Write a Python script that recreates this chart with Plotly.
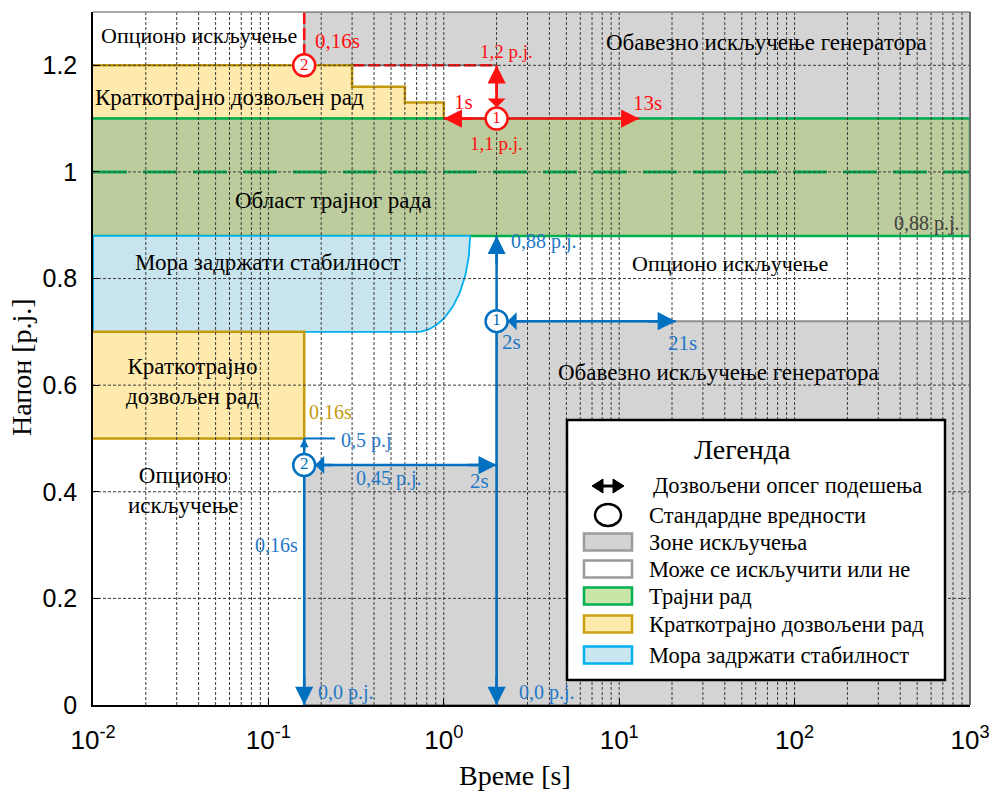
import numpy as np
import plotly.graph_objects as go

# ---------------- axes ----------------
T_MIN, T_MAX = 0.01, 1000.0
U_MIN, U_MAX = 0.0, 1.3
X_TICKS = [0.01, 0.1, 1, 10, 100, 1000]
X_TICK_TEXT = ["10<sup>-2</sup>", "10<sup>-1</sup>", "10<sup>0</sup>",
               "10<sup>1</sup>", "10<sup>2</sup>", "10<sup>3</sup>"]
Y_TICKS = [0, 0.2, 0.4, 0.6, 0.8, 1.0, 1.2]
Y_TICK_TEXT = ["0", "0.2", "0.4", "0.6", "0.8", "1", "1.2"]
X_TITLE = "Време [s]"
Y_TITLE = "Напон [p.j.]"

# ---------------- overvoltage protection ----------------
OV2_T = 0.16              # stage 2 delay [s]
OV2_U = 1.2               # stage 2 pickup [p.j.]
OV1_T = 2.0               # stage 1 standard delay [s]
OV1_U = 1.1               # stage 1 pickup [p.j.]
OV1_T_RANGE = [1.0, 13.0] # stage 1 delay setting range [s]

# ---------------- undervoltage protection ----------------
UV2_T = 0.16              # stage 2 delay [s]
UV2_U = 0.45              # stage 2 pickup [p.j.]
UV2_U_MAX = 0.5           # stage 2 upper setting limit [p.j.]
UV2_U_MAX_T = 0.24        # end of the 0,5 p.j. marker line
UV1_T = 2.0               # stage 1 standard delay [s]
UV1_U = 0.72              # stage 1 pickup [p.j.]
UV1_T_RANGE = [2.0, 21.0] # stage 1 delay setting range [s]
UV1_U_MAX = 0.88          # stage 1 upper setting limit [p.j.]
UV_U_MIN = 0.0

# ---------------- operating zones ----------------
CONT_U = [0.88, 1.1]                 # continuous operation band
NOMINAL_U = 1.0
ST_OVER_T = [0.3, 0.6, 1.0]          # short-time overvoltage steps: end times
ST_OVER_U = [1.2, 1.16, 1.13]        # short-time overvoltage steps: levels
ST_UNDER_T = 0.16                    # short-time undervoltage box
ST_UNDER_U = [0.5, 0.7]
STAB_U = [0.7, 0.88]                 # must-remain-stable band
STAB_T = [0.7, 1.41]                 # rounded corner: bottom end / top end

# ---------------- colours ----------------
GRAY, GRAY_EDGE = "#d4d4d4", "#8e8e8e"
GREEN_FILL, GREEN_LINE = "#bccc9c", "#00b050"
YELLOW_FILL, YELLOW_LINE = "#ffeaad", "#c59b0c"
BLUE_FILL, BLUE_EDGE = "#c8e4ee", "#00b0f0"
RED = "#ff1010"
BLUE = "#0070c0"
BLUE_TXT = "#1f78c8"
SERIF = "Liberation Serif, Times New Roman, serif"
SANS = "Liberation Sans, Arial, sans-serif"


def zone(x, y, fill, line=None, width=0.0):
    return go.Scatter(x=x, y=y, mode="lines", fill="toself", fillcolor=fill,
                      line=dict(color=line or fill, width=width),
                      hoverinfo="skip", showlegend=False)


def seg(x, y, color, width=2.5, dash="solid"):
    return go.Scatter(x=x, y=y, mode="lines", line=dict(color=color, width=width, dash=dash),
                      hoverinfo="skip", showlegend=False)


fig = go.Figure()

# mandatory trip zones
fig.add_trace(zone([OV2_T, T_MAX, T_MAX, OV1_T, OV1_T, OV2_T, OV2_T],
                   [U_MAX, U_MAX, OV1_U, OV1_U, OV2_U, OV2_U, U_MAX], GRAY, GRAY_EDGE, 2))
fig.add_trace(zone([UV1_T, T_MAX, T_MAX, UV1_T, UV1_T], [UV_U_MIN, UV_U_MIN, UV1_U, UV1_U, UV_U_MIN],
                   GRAY, GRAY_EDGE, 2))
fig.add_trace(zone([UV2_T, UV1_T, UV1_T, UV2_T, UV2_T], [UV_U_MIN, UV_U_MIN, UV2_U, UV2_U, UV_U_MIN],
                   GRAY, GRAY_EDGE, 2))

# overvoltage stage 2 boundary (dashed)
fig.add_trace(seg([OV2_T, OV2_T], [U_MAX, OV2_U], RED, 2.5, "12px,4px"))
fig.add_trace(seg([OV2_T, OV1_T], [OV2_U, OV2_U], RED, 2.5, "12px,4px"))

# short-time overvoltage zone (stepped)
st_x = [T_MIN]
st_y = [ST_OVER_U[0]]
for i, t in enumerate(ST_OVER_T):
    st_x.append(t)
    st_y.append(ST_OVER_U[i])
    st_x.append(t)
    st_y.append(ST_OVER_U[i + 1] if i + 1 < len(ST_OVER_U) else CONT_U[1])
st_x.append(T_MIN)
st_y.append(CONT_U[1])
fig.add_trace(zone(st_x, st_y, YELLOW_FILL, YELLOW_LINE, 2.5))

# continuous operation band
fig.add_trace(zone([T_MIN, T_MAX, T_MAX, T_MIN], [CONT_U[0], CONT_U[0], CONT_U[1], CONT_U[1]],
                   GREEN_FILL, GREEN_LINE, 2.5))

# must-remain-stable zone with a rounded lower-right corner
th = np.linspace(0.0, np.pi / 2, 40)
l0, l1 = np.log10(STAB_T)
arc_x = 10 ** (l0 + (l1 - l0) * np.cos(th))
arc_y = STAB_U[1] - (STAB_U[1] - STAB_U[0]) * np.sin(th)
fig.add_trace(zone([T_MIN] + list(arc_x) + [T_MIN, T_MIN],
                   [STAB_U[1]] + list(arc_y) + [STAB_U[0], STAB_U[1]],
                   BLUE_FILL, BLUE_EDGE, 1.8))

# short-time undervoltage zone
fig.add_trace(zone([T_MIN, ST_UNDER_T, ST_UNDER_T, T_MIN],
                   [ST_UNDER_U[0], ST_UNDER_U[0], ST_UNDER_U[1], ST_UNDER_U[1]],
                   YELLOW_FILL, YELLOW_LINE, 2.5))

# nominal voltage line
fig.add_trace(seg([T_MIN, T_MAX], [NOMINAL_U, NOMINAL_U], GREEN_LINE, 3, "34px,16px"))

# grid drawn above the zones
gx, gy = [], []
for d in range(-2, 3):
    for m in range(1, 10):
        v = m * 10.0 ** d
        if T_MIN < v < T_MAX:
            gx += [v, v, None]
            gy += [U_MIN, U_MAX, None]
for v in Y_TICKS[1:]:
    gx += [T_MIN, T_MAX, None]
    gy += [v, v, None]
fig.add_trace(go.Scatter(x=gx, y=gy, mode="lines", line=dict(color="#3a3a3a", width=1, dash="3px,2px"),
                         hoverinfo="skip", showlegend=False, connectgaps=False))

# overvoltage setting ranges
fig.add_trace(seg(OV1_T_RANGE, [OV1_U, OV1_U], RED))
fig.add_trace(seg([OV1_T, OV1_T], [OV1_U, OV2_U], RED))

# undervoltage setting ranges
fig.add_trace(seg([UV1_T, UV1_T], [UV_U_MIN, UV1_U_MAX], BLUE))
fig.add_trace(seg(UV1_T_RANGE, [UV1_U, UV1_U], BLUE))
fig.add_trace(seg([UV2_T, UV1_T], [UV2_U, UV2_U], BLUE))
fig.add_trace(seg([UV2_T, UV2_T], [UV_U_MIN, UV2_U_MAX], BLUE))
fig.add_trace(seg([UV2_T, UV2_U_MAX_T], [UV2_U_MAX, UV2_U_MAX], BLUE, 2))

# standard setting points
fig.add_trace(go.Scatter(
    x=[OV2_T, OV1_T], y=[OV2_U, OV1_U], mode="markers+text", text=["2", "1"],
    textposition="middle center", textfont=dict(family=SERIF, size=17, color=RED),
    marker=dict(size=22, color="white", line=dict(color=RED, width=2.5)),
    hoverinfo="skip", showlegend=False))
fig.add_trace(go.Scatter(
    x=[UV2_T, UV1_T], y=[UV2_U, UV1_U], mode="markers+text", text=["2", "1"],
    textposition="middle center", textfont=dict(family=SERIF, size=17, color=BLUE),
    marker=dict(size=22, color="white", line=dict(color=BLUE, width=2.5)),
    hoverinfo="skip", showlegend=False))

annotations = []

TAIL = {"left": (30, 0), "right": (-30, 0), "up": (0, 30), "down": (0, -30)}


def head(t, u, direction, color, standoff=0, style=2, size=1.45, tail=None):
    dx, dy = TAIL[direction]
    if tail is not None:
        dx = int(np.sign(dx)) * tail
        dy = int(np.sign(dy)) * tail
    annotations.append(dict(x=np.log10(t), y=u, xref="x", yref="y", ax=dx, ay=dy,
                            axref="pixel", ayref="pixel", text="", showarrow=True,
                            arrowhead=style, arrowsize=size, arrowwidth=2.5,
                            arrowcolor=color, standoff=standoff))


def label(t, u, text, color="black", size=23, xanchor="center", xshift=0, yshift=0):
    annotations.append(dict(x=np.log10(t), y=u, xref="x", yref="y", text=text,
                            showarrow=False, xanchor=xanchor, yanchor="middle",
                            xshift=xshift, yshift=yshift,
                            font=dict(family=SERIF, size=size, color=color)))


# arrowheads - overvoltage
head(OV1_T_RANGE[0], OV1_U, "left", RED)
head(OV1_T_RANGE[1], OV1_U, "right", RED)
head(OV1_T, OV2_U, "up", RED)
head(OV1_T, OV1_U, "down", RED, standoff=11, style=1, size=1.2, tail=24)

# arrowheads - undervoltage
head(UV1_T, UV1_U_MAX, "up", BLUE)
head(UV1_T, UV_U_MIN, "down", BLUE)
head(UV1_T_RANGE[1], UV1_U, "right", BLUE)
head(UV1_T, UV1_U, "left", BLUE, standoff=11, style=1, size=1.2)
head(UV1_T, UV2_U, "right", BLUE)
head(UV2_T, UV2_U, "left", BLUE, standoff=11, style=1, size=1.2)
head(UV2_T, UV_U_MIN, "down", BLUE)
head(UV2_T, UV2_U_MAX, "up", BLUE, size=0.7, tail=12)

# value labels - overvoltage
label(OV2_T, OV2_U, "0,16s", RED, 21, "left", 9, 24)
label(OV1_T, OV2_U, "1,2 p.j.", RED, 19, "center", 10, 14)
label(OV1_T_RANGE[0], OV1_U, "1s", RED, 21, "left", 8, 17)
label(OV1_T_RANGE[1], OV1_U, "13s", RED, 21, "left", -8, 16)
label(OV1_T, OV1_U, "1,1 p.j.", RED, 19, "center", 0, -25)

# value labels - undervoltage
label(UV1_T, UV1_U_MAX, "0,88 p.j.", BLUE_TXT, 20, "left", 12, -6)
label(UV1_T, UV1_U, "2s", BLUE_TXT, 21, "left", 3, -21)
label(UV1_T_RANGE[1], UV1_U, "21s", BLUE_TXT, 21, "left", -10, -22)
label(UV2_U_MAX_T, UV2_U_MAX, "0,5 p.j", BLUE_TXT, 20, "left", 4, -2)
label(0.49, UV2_U, "0,45 p.j.", BLUE_TXT, 20, "center", 0, -13)
label(UV1_T, UV2_U, "2s", BLUE_TXT, 21, "right", -6, -16)
label(UV2_T, 0.30, "0,16s", BLUE_TXT, 20, "right", -4, 0)
label(UV2_T, UV_U_MIN, "0,0 p.j.", BLUE_TXT, 20, "left", 12, 13)
label(UV1_T, UV_U_MIN, "0,0 p.j.", BLUE_TXT, 20, "left", 20, 13)
label(ST_UNDER_T, 0.555, "0,16s", YELLOW_LINE, 20, "left", 3, -3)
label(T_MAX, CONT_U[0], "0,88 p.j.", "#404040", 20, "right", -8, 12)

# zone names
label(0.0402, 1.256, "Опционо искључење", size=22)
label(68.7, 1.243, "Обавезно искључење генератора")
label(0.06, 1.14, "Краткотрајно дозвољен рад")
label(0.233, 0.947, "Област трајног рада")
label(0.1, 0.831, "Мора задржати стабилност")
label(42.9, 0.829, "Опционо искључење", size=22)
label(36.6, 0.624, "Обавезно искључење генератора")
label(0.037, 0.607, "Краткотрајно<br>дозвољен рад")
label(0.0326, 0.403, "Опционо<br>искључење")

# ---------------- legend panel and titles (placed in pixel layout units) ----------------
PLOT_L, PLOT_T, PLOT_W, PLOT_H = 93, 12, 877, 693


def px(x):
    return (x - PLOT_L) / PLOT_W


def py(y):
    return (PLOT_T + PLOT_H - y) / PLOT_H


LEGEND_TITLE = "Легенда"
LEGEND_LABELS = ["Дозвољени опсег подешења", "Стандардне вредности", "Зоне искључења",
                 "Може се искључити или не", "Трајни рад", "Краткотрајно дозвољени рад",
                 "Мора задржати стабилност"]
LEGEND_FILL = [None, None, "#d3d3d3", "#ffffff", "#c8e6a8", "#ffeaad", "#c9e6f0"]
LEGEND_EDGE = [None, None, "#9a9a9a", "#9a9a9a", "#00b050", "#c8a010", "#00b0f0"]
LEGEND_ROW_Y = [486, 515, 542, 569, 596, 624, 655]

shapes = [
    dict(type="line", xref="paper", yref="paper", x0=0, x1=1, y0=1, y1=1,
         line=dict(color="#8c8c8c", width=1.5), layer="above"),
    dict(type="line", xref="paper", yref="paper", x0=1, x1=1, y0=0, y1=1,
         line=dict(color="#6c6c6c", width=2), layer="above"),
    dict(type="rect", xref="paper", yref="paper", x0=px(567), x1=px(945), y0=py(680), y1=py(420),
         fillcolor="white", line=dict(color="black", width=2.5), layer="above"),
]

# double arrow symbol
ay0 = LEGEND_ROW_Y[0]
shapes.append(dict(type="line", xref="paper", yref="paper", x0=px(600), x1=px(616), y0=py(ay0), y1=py(ay0),
                   line=dict(color="black", width=3), layer="above"))
shapes.append(dict(type="path", xref="paper", yref="paper", layer="above", fillcolor="black",
                   line=dict(color="black", width=1),
                   path=f"M {px(592)} {py(ay0)} L {px(603)} {py(ay0-7)} L {px(603)} {py(ay0+7)} Z"))
shapes.append(dict(type="path", xref="paper", yref="paper", layer="above", fillcolor="black",
                   line=dict(color="black", width=1),
                   path=f"M {px(624)} {py(ay0)} L {px(613)} {py(ay0-7)} L {px(613)} {py(ay0+7)} Z"))
# circle symbol
cy = LEGEND_ROW_Y[1]
shapes.append(dict(type="circle", xref="paper", yref="paper", x0=px(595), x1=px(621),
                   y0=py(cy + 11), y1=py(cy - 11), line=dict(color="black", width=2.5),
                   fillcolor="white", layer="above"))
# zone swatches
for yc, fc, ec in zip(LEGEND_ROW_Y[2:], LEGEND_FILL[2:], LEGEND_EDGE[2:]):
    shapes.append(dict(type="rect", xref="paper", yref="paper", x0=px(584), x1=px(632),
                       y0=py(yc + 8.5), y1=py(yc - 8.5), fillcolor=fc,
                       line=dict(color=ec, width=2.5), layer="above"))

annotations.append(dict(x=px(742), y=py(449), xref="paper", yref="paper", text=LEGEND_TITLE,
                        showarrow=False, xanchor="center", yanchor="middle",
                        font=dict(family=SERIF, size=28, color="black")))
for i, (txt, yc) in enumerate(zip(LEGEND_LABELS, LEGEND_ROW_Y)):
    annotations.append(dict(x=px(651 if i == 0 else 647), y=py(yc), xref="paper", yref="paper",
                            text=txt, showarrow=False, xanchor="left", yanchor="middle",
                            font=dict(family=SERIF, size=22.5, color="black")))

# axis titles
annotations.append(dict(x=px(515), y=py(775), xref="paper", yref="paper", text=X_TITLE,
                        showarrow=False, xanchor="center", yanchor="middle",
                        font=dict(family=SERIF, size=28, color="black")))
annotations.append(dict(x=px(22), y=py(367), xref="paper", yref="paper", text=Y_TITLE,
                        showarrow=False, xanchor="center", yanchor="middle", textangle=-90,
                        font=dict(family=SERIF, size=28, color="black")))

fig.update_layout(
    width=991, height=796,
    margin=dict(l=PLOT_L, r=991 - PLOT_L - PLOT_W, t=PLOT_T, b=796 - PLOT_T - PLOT_H,
                autoexpand=False),
    paper_bgcolor="white", plot_bgcolor="white",
    showlegend=False,
    shapes=shapes,
    annotations=annotations,
    xaxis=dict(type="log", range=[np.log10(T_MIN), np.log10(T_MAX)], automargin=False,
               tickvals=X_TICKS, ticktext=X_TICK_TEXT, ticks="inside", ticklen=6,
               tickcolor="black", showgrid=False, zeroline=False, showline=True,
               linecolor="black", linewidth=1.5, layer="above traces",
               ticklabeloverflow="allow",
               tickfont=dict(family=SANS, size=26, color="black"), ticklabelstandoff=11),
    yaxis=dict(range=[U_MIN, U_MAX], tickvals=Y_TICKS, ticktext=Y_TICK_TEXT, automargin=False,
               ticks="inside", ticklen=6, tickcolor="black", showgrid=False, zeroline=False,
               showline=True, linecolor="black", linewidth=1.5, layer="above traces",
               ticklabeloverflow="allow",
               tickfont=dict(family=SANS, size=25, color="black"), ticklabelstandoff=9),
)

fig.write_html("out.html")
